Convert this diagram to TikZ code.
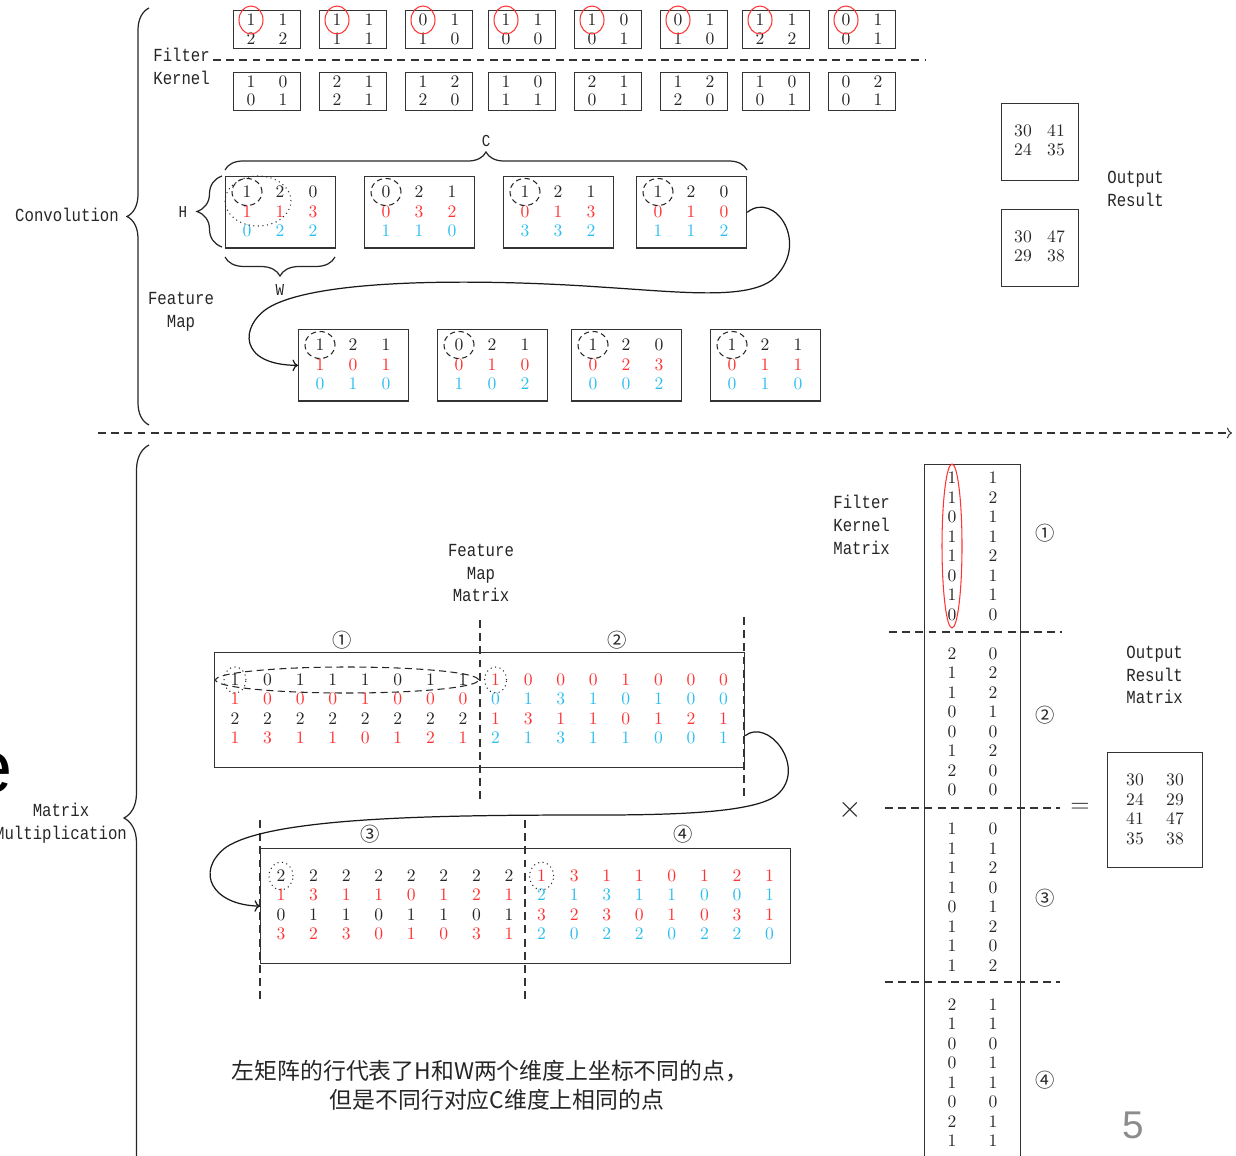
\documentclass[tikz,border=0pt]{standalone}
\usepackage{fontspec}
\usetikzlibrary{decorations.pathreplacing,arrows.meta,calc}
\newfontfamily\labfont[FakeStretch=0.85]{Liberation Mono}
\newfontfamily\cjk{Noto Sans CJK SC}
\newfontfamily\sansfont{Liberation Sans}
\definecolor{myred}{RGB}{255,51,51}
\definecolor{myblue}{RGB}{45,190,240}
\tikzset{
  lab/.style={font=\labfont\fontsize{10.5}{13}\selectfont, align=left, inner sep=0pt, text=black!85},
  num/.style={font=\fontsize{10}{12}\selectfont, inner sep=0pt, text=black!85},
  rnum/.style={num, text=myred},
  bnum/.style={num, text=myblue},
  box/.style={draw=black!80, line width=0.7pt, inner sep=0pt},
  circnum/.style={font=\cjk\fontsize{11}{12}\selectfont, inner sep=0pt, text=black!85},
  sep/.style={draw=black!80, line width=0.6pt, dash pattern=on 4.5pt off 3pt},
  brc/.style={draw=black!85, line width=0.7pt, decorate},
}
\newcommand\fmbox[6]{%
  \node[box, minimum width=2.2cm, minimum height=1.43cm, anchor=north west] (#1) at (#2,#3) {};
  \foreach \v [count=\k from 0] in {#4} \node[num] (#1-a\k) at ({#2+22+33*\k},{#3+16}) {\v};
  \foreach \v [count=\k from 0] in {#5} \node[rnum] (#1-b\k) at ({#2+22+33*\k},{#3+35.5}) {\v};
  \foreach \v [count=\k from 0] in {#6} \node[bnum] (#1-c\k) at ({#2+22+33*\k},{#3+55}) {\v};
  \draw[black!85, line width=0.6pt, dash pattern=on 3pt off 2pt] (#1-a0.center) ellipse [x radius=0.3cm, y radius=0.27cm];
}
\newcommand\digrow[5]{\foreach \v [count=\k from 0] in {#5} \node[#1] (#2\k) at ({#3+32.57*\k},#4) {\v};}
\newcommand\kcol[4]{\foreach \v [count=\k from 0] in {#4} \node[num] (#1\k) at (#2,{#3+19.5*\k}) {\v};}
\begin{document}
\begin{tikzpicture}[x=0.02cm,y=-0.02cm]
\useasboundingbox (0,0) rectangle (1236,1155);
\clip (0,0) rectangle (1236,1155);

% ---------- Convolution part ----------
\foreach \i/\x/\a/\b/\c/\d in {1/233/1/1/2/2,2/319/1/1/1/1,3/405/0/1/1/0,4/488/1/1/0/0,5/574/1/0/0/1,6/660/0/1/1/0,7/742/1/1/2/2,8/828/0/1/0/1}{
  \node[box,minimum width=1.34cm,minimum height=0.76cm,anchor=north west] (fa\i) at (\x,10) {};
  \node[num] (fa\i-a) at ({\x+18},20) {\a};
  \node[num] (fa\i-b) at ({\x+50},20) {\b};
  \node[num] (fa\i-c) at ({\x+18},39) {\c};
  \node[num] (fa\i-d) at ({\x+50},39) {\d};
  \draw[myred, line width=0.6pt] (fa\i-a.center) ellipse [x radius=0.24cm, y radius=0.28cm];
}
\foreach \i/\x/\a/\b/\c/\d in {1/233/1/0/0/1,2/319/2/1/2/1,3/405/1/2/2/0,4/488/1/0/1/1,5/574/2/1/0/1,6/660/1/2/2/0,7/742/1/0/0/1,8/828/0/2/0/1}{
  \node[box,minimum width=1.34cm,minimum height=0.76cm,anchor=north west] (fb\i) at (\x,72) {};
  \node[num] (fb\i-a) at ({\x+18},82) {\a};
  \node[num] (fb\i-b) at ({\x+50},82) {\b};
  \node[num] (fb\i-c) at ({\x+18},100) {\c};
  \node[num] (fb\i-d) at ({\x+50},100) {\d};
}
\node[lab, anchor=west] (fklab) at (153,66) {Filter\\Kernel};
\coordinate (sepA) at (213,60);
\coordinate (sepB) at (925,60);
\draw[sep] (sepA) -- (sepB);

\node[lab] (convlab) at (67,215) {Convolution};
\draw[brc, decoration={brace, amplitude=0.44cm}] (149,425) -- (149,8);

% feature maps
\fmbox{m1}{225}{176}{1,2,0}{1,1,3}{0,2,2}
\fmbox{m2}{364}{176}{0,2,1}{0,3,2}{1,1,0}
\fmbox{m3}{503}{176}{1,2,1}{0,1,3}{3,3,2}
\fmbox{m4}{636}{176}{1,2,0}{0,1,0}{1,1,2}
\draw[black!85, line width=0.6pt, dotted] (258,201) ellipse [x radius=0.66cm, y radius=0.5cm];
\fmbox{n1}{298}{329}{1,2,1}{1,0,1}{0,1,0}
\fmbox{n2}{437}{329}{0,2,1}{0,1,0}{1,0,2}
\fmbox{n3}{571}{329}{1,2,0}{0,2,3}{0,0,2}
\fmbox{n4}{710}{329}{1,2,1}{0,1,1}{0,1,0}

\draw[brc, decoration={brace, amplitude=0.36cm}] (225,170) -- (747,170);
\node[lab, font=\labfont\fontsize{9.5}{11}\selectfont] (clab) at (486,141) {C};
\draw[brc, decoration={brace, amplitude=0.5cm}] (222,247) -- (222,176);
\node[lab, font=\labfont\fontsize{9.5}{11}\selectfont] (hlab) at (183,212) {H};
\draw[brc, decoration={brace, amplitude=0.38cm}] (335,257) -- (225,257);
\node[lab, font=\labfont\fontsize{9.5}{11}\selectfont] (wlab) at (280,290) {W};
\node[lab, align=center] (fmlab) at (181,312) {Feature\\Map};

\draw[black!90, line width=0.7pt, ->] (m4.east) .. controls (775,190) and (812,245) .. (772,280)
  .. controls (745,300) and (680,292) .. (600,287)
  .. controls (500,280) and (320,276) .. (268,308)
  .. controls (240,326) and (238,365) .. (n1.west);

% output results
\node[box, minimum width=1.54cm, minimum height=1.54cm, anchor=north west] (o1) at (1001,103) {};
\node[num] (o1a) at (1023,131) {30}; \node[num] (o1b) at (1056,131) {41};
\node[num] (o1c) at (1023,150) {24}; \node[num] (o1d) at (1056,150) {35};
\node[box, minimum width=1.54cm, minimum height=1.54cm, anchor=north west] (o2) at (1001,209) {};
\node[num] (o2a) at (1023,237) {30}; \node[num] (o2b) at (1056,237) {47};
\node[num] (o2c) at (1023,256) {29}; \node[num] (o2d) at (1056,256) {38};
\node[lab, anchor=west] (orlab) at (1107,189) {Output\\Result};

% separator arrow
\coordinate (arrA) at (98,433);
\coordinate (arrB) at (1232,433);
\draw[sep, ->] (arrA) -- (arrB);

% ---------- Matrix multiplication part ----------
\node[anchor=base east, inner sep=0pt, font=\sansfont\fontsize{42}{42}\selectfont] (bige) at (13,792) {e};
\node[lab, align=center] (mmlab) at (61,823) {Matrix\\Multiplication};
\draw[brc, decoration={brace, amplitude=0.5cm}] (149,1191) -- (149,445);

\node[lab, align=center] (fmmlab) at (481,573) {Feature\\Map\\Matrix};
\node[box, minimum width=10.6cm, minimum height=2.3cm, anchor=north west] (p1) at (214,652) {};
\coordinate (d1a) at (480,620); \coordinate (d1b) at (480,800);
\coordinate (d2a) at (744,617); \coordinate (d2b) at (744,800);
\draw[sep] (d1a) -- (d1b);
\draw[sep] (d2a) -- (d2b);
\node[circnum] (c1) at (342,640) {①};
\node[circnum] (c2) at (617,640) {②};
\digrow{num}{pa}{235}{680}{1,0,1,1,1,0,1,1}
\digrow{rnum}{pb}{235}{699}{1,0,0,0,1,0,0,0}
\digrow{num}{pc}{235}{719}{2,2,2,2,2,2,2,2}
\digrow{rnum}{pd}{235}{738}{1,3,1,1,0,1,2,1}
\digrow{rnum}{qa}{495.6}{680}{1,0,0,0,1,0,0,0}
\digrow{bnum}{qb}{495.6}{699}{0,1,3,1,0,1,0,0}
\digrow{rnum}{qc}{495.6}{719}{1,3,1,1,0,1,2,1}
\digrow{bnum}{qd}{495.6}{738}{2,1,3,1,1,0,0,1}
\draw[black!85, line width=0.6pt, dash pattern=on 4pt off 2.5pt] (347,680) ellipse [x radius=2.63cm, y radius=0.26cm];
\draw[black!85, line width=0.6pt, dotted] (pa0.center) ellipse [x radius=0.22cm, y radius=0.26cm];
\draw[black!85, line width=0.6pt, dotted] (qa0.center) ellipse [x radius=0.22cm, y radius=0.26cm];

\node[box, minimum width=10.6cm, minimum height=2.3cm, anchor=north west] (p2) at (260,848) {};
\coordinate (d3a) at (260,820); \coordinate (d3b) at (260,1000);
\coordinate (d4a) at (525,820); \coordinate (d4b) at (525,1000);
\draw[sep] (d3a) -- (d3b);
\draw[sep] (d4a) -- (d4b);
\node[circnum] (c3) at (370,834) {③};
\node[circnum] (c4) at (683,834) {④};
\digrow{num}{ua}{281}{876}{2,2,2,2,2,2,2,2}
\digrow{rnum}{ub}{281}{895}{1,3,1,1,0,1,2,1}
\digrow{num}{uc}{281}{915}{0,1,1,0,1,1,0,1}
\digrow{rnum}{ud}{281}{934}{3,2,3,0,1,0,3,1}
\digrow{rnum}{va}{541.6}{876}{1,3,1,1,0,1,2,1}
\digrow{bnum}{vb}{541.6}{895}{2,1,3,1,1,0,0,1}
\digrow{rnum}{vc}{541.6}{915}{3,2,3,0,1,0,3,1}
\digrow{bnum}{vd}{541.6}{934}{2,0,2,2,0,2,2,0}
\draw[black!85, line width=0.6pt, dotted] (ua0.center) ellipse [x radius=0.24cm, y radius=0.28cm];
\draw[black!85, line width=0.6pt, dotted] (va0.center) ellipse [x radius=0.24cm, y radius=0.28cm];

\draw[black!90, line width=0.7pt, ->] ($(p1.north east)!0.72!(p1.south east)$) .. controls (768,718) and (805,765) .. (780,792)
  .. controls (765,810) and (700,815) .. (600,815)
  .. controls (450,815) and (270,816) .. (225,848)
  .. controls (195,872) and (212,905) .. (p2.west);

\node[font=\cjk\fontsize{13}{16}\selectfont, text=black!85, inner sep=0pt] (note1) at (490,1071) {左矩阵的行代表了H和W两个维度上坐标不同的点，};
\node[font=\cjk\fontsize{13}{16}\selectfont, text=black!85, inner sep=0pt] (note2) at (497,1100) {但是不同行对应C维度上相同的点};

% filter kernel matrix
\node[lab, anchor=west] (fkmlab) at (833,525) {Filter\\Kernel\\Matrix};
\node[box, minimum width=1.92cm, minimum height=14.2cm, anchor=north west] (kbox) at (924,464) {};
\kcol{ka}{952}{478}{1,1,0,1,1,0,1,0}
\kcol{kb}{993}{478}{1,2,1,1,2,1,1,0}
\kcol{kc}{952}{653.5}{2,1,1,0,0,1,2,0}
\kcol{kd}{993}{653.5}{0,2,2,1,0,2,0,0}
\kcol{ke}{952}{829}{1,1,1,1,0,1,1,1}
\kcol{kf}{993}{829}{0,1,2,0,1,2,0,2}
\kcol{kg}{952}{1004.5}{2,1,0,0,1,0,2,1}
\kcol{kh}{993}{1004.5}{1,1,0,1,1,0,1,1}
\draw[myred, line width=0.6pt] (952,546) ellipse [x radius=0.2cm, y radius=1.64cm];
\coordinate (k1a) at (889,632); \coordinate (k1b) at (1062,632);
\coordinate (k2a) at (885,808); \coordinate (k2b) at (1060,808);
\coordinate (k3a) at (885,982); \coordinate (k3b) at (1060,982);
\draw[sep] (k1a) -- (k1b);
\draw[sep] (k2a) -- (k2b);
\draw[sep] (k3a) -- (k3b);
\node[circnum] (kc1) at (1045,533) {①};
\node[circnum] (kc2) at (1045,715) {②};
\node[circnum] (kc3) at (1045,898) {③};
\node[circnum] (kc4) at (1045,1080) {④};

\node[inner sep=0pt, font=\fontsize{17}{17}\selectfont, text=black!85] (times) at (850,810) {$\times$};
\node[inner sep=0pt, font=\fontsize{15}{15}\selectfont, text=black!85] (eq) at (1080,808) {$=$};

\node[lab, anchor=west] (ormlab) at (1126,675) {Output\\Result\\Matrix};
\node[box, minimum width=1.9cm, minimum height=2.3cm, anchor=north west] (om) at (1107,752) {};
\node[num] (om1) at (1135,780) {30}; \node[num] (om2) at (1175,780) {30};
\node[num] (om3) at (1135,800) {24}; \node[num] (om4) at (1175,800) {29};
\node[num] (om5) at (1135,819) {41}; \node[num] (om6) at (1175,819) {47};
\node[num] (om7) at (1135,839) {35}; \node[num] (om8) at (1175,839) {38};

\node[inner sep=0pt, font=\sansfont\fontsize{22}{22}\selectfont, text=black!45] (pnum) at (1133,1125) {5};
\end{tikzpicture}
\end{document}
